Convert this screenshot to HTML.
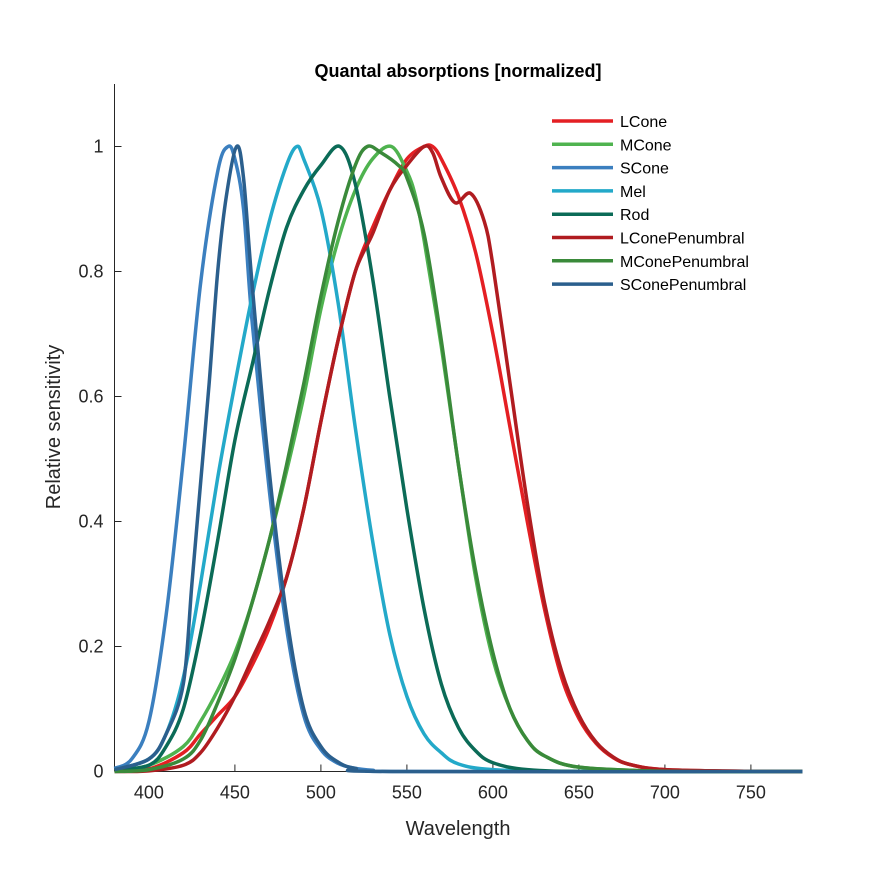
<!DOCTYPE html>
<html><head><meta charset="utf-8"><style>
body{margin:0;background:#fff;}
svg text{font-family:"Liberation Sans",Arial,sans-serif;}
</style></head><body>
<svg id="chart" width="886" height="886" viewBox="0 0 886 886">
<rect width="886" height="886" fill="#fff"/>
<text x="458" y="77" text-anchor="middle" font-size="18" font-weight="bold" fill="#000">Quantal absorptions [normalized]</text>
<g id="axes"></g>
<g id="series"></g>
<g id="legend"></g>
<text x="458" y="835" text-anchor="middle" font-size="20" fill="#262626">Wavelength</text>
<text transform="translate(60,427) rotate(-90)" text-anchor="middle" font-size="20" fill="#262626">Relative sensitivity</text>
</svg>
<script>
const xTicks=[400,450,500,550,600,650,700,750];
const yTicks=[0,0.2,0.4,0.6,0.8,1];
const yTickLabels=["0","0.2","0.4","0.6","0.8","1"];
const seriesNames=["LCone","MCone","SCone","Mel","Rod","LConePenumbral","MConePenumbral","SConePenumbral"];
const seriesColors=["#e41f23","#4fb34f","#3b7fbf","#23a9c9","#0b6b57","#b01c20","#3a8a3a","#2b5f8d"];
const LCone=[[380,0.001],[400,0.004],[420,0.03],[430,0.06],[440,0.09],[450,0.12],[460,0.17],[470,0.23],[480,0.31],[490,0.42],[500,0.56],[510,0.69],[520,0.8],[530,0.87],[540,0.93],[550,0.98],[560,1.0],[565,1.0],[570,0.98],[580,0.92],[590,0.83],[600,0.7],[610,0.55],[620,0.4],[630,0.26],[640,0.15],[650,0.085],[660,0.045],[670,0.022],[680,0.011],[700,0.003],[750,0.0003],[780,0]];
const MCone=[[380,0.001],[400,0.01],[420,0.04],[430,0.08],[440,0.13],[450,0.19],[460,0.27],[470,0.37],[480,0.48],[490,0.6],[500,0.74],[510,0.85],[520,0.93],[530,0.98],[541,1],[550,0.96],[555,0.92],[560,0.85],[570,0.68],[580,0.49],[590,0.31],[600,0.18],[610,0.1],[620,0.05],[630,0.025],[650,0.007],[700,0.0005],[780,0]];
const SCone=[[380,0.005],[390,0.02],[400,0.08],[410,0.25],[420,0.5],[430,0.78],[440,0.96],[446,1.0],[450,0.98],[455,0.9],[460,0.72],[470,0.45],[480,0.23],[490,0.09],[500,0.035],[510,0.013],[520,0.005],[530,0.002],[550,0],[780,0]];
const Mel=[[380,0.003],[400,0.02],[410,0.06],[420,0.15],[430,0.3],[440,0.47],[450,0.62],[460,0.76],[470,0.88],[480,0.97],[486,1],[490,0.98],[500,0.9],[510,0.75],[520,0.55],[530,0.37],[540,0.22],[550,0.12],[560,0.06],[570,0.03],[580,0.012],[600,0.003],[650,0],[780,0]];
const Rod=[[380,0.002],[400,0.01],[410,0.04],[420,0.1],[430,0.22],[440,0.37],[450,0.53],[460,0.65],[470,0.77],[480,0.87],[490,0.93],[500,0.97],[511,1],[520,0.94],[530,0.79],[540,0.6],[550,0.42],[560,0.26],[570,0.14],[580,0.07],[590,0.033],[600,0.014],[620,0.003],[660,0],[780,0]];
const LConePen=[[380,0],[400,0.001],[420,0.01],[430,0.03],[440,0.07],[450,0.12],[460,0.18],[470,0.24],[480,0.31],[490,0.42],[500,0.56],[510,0.69],[520,0.8],[530,0.86],[540,0.93],[550,0.97],[560,1.0],[565,0.99],[570,0.95],[578,0.91],[587,0.925],[595,0.88],[600,0.81],[610,0.62],[620,0.43],[630,0.27],[640,0.16],[650,0.09],[660,0.047],[670,0.023],[680,0.011],[700,0.003],[750,0.0003],[780,0]];
const MConePen=[[380,0],[400,0.003],[420,0.02],[430,0.05],[440,0.11],[450,0.18],[460,0.27],[470,0.37],[480,0.49],[490,0.62],[500,0.76],[510,0.88],[520,0.97],[527,1],[535,0.99],[545,0.97],[550,0.95],[560,0.86],[570,0.69],[580,0.49],[590,0.32],[600,0.19],[610,0.1],[620,0.05],[630,0.025],[650,0.007],[700,0.0005],[780,0]];
const SConePen=[[380,0.003],[400,0.02],[410,0.06],[420,0.14],[425,0.3],[430,0.46],[435,0.62],[440,0.8],[445,0.92],[451,1.0],[455,0.95],[460,0.78],[470,0.48],[480,0.25],[490,0.1],[500,0.04],[510,0.015],[520,0.005],[540,0],[780,0]];
const seriesData=[LCone,MCone,SCone,Mel,Rod,LConePen,MConePen,SConePen];

const X0=380,X1=780,PX0=114.5,PX1=802.5;
const Y0=0,Y1=1.1,PY0=771.5,PY1=84;
const xs=v=>PX0+(v-X0)/(X1-X0)*(PX1-PX0);
const ys=v=>PY0-(v-Y0)/(Y1-Y0)*(PY0-PY1);
const NS="http://www.w3.org/2000/svg";
function mk(tag,attrs,parent){const e=document.createElementNS(NS,tag);for(const k in attrs)e.setAttribute(k,attrs[k]);parent.appendChild(e);return e;}
const axes=document.getElementById('axes');
let e=mk('line',{x1:PX0,y1:PY1,x2:PX0,y2:PY0,stroke:"#262626","stroke-width":1},axes);


e=mk('line',{x1:PX0,y1:PY0,x2:PX1,y2:PY0,stroke:"#262626","stroke-width":1},axes);


xTicks.forEach(t=>{
 const l=mk('line',{x1:xs(t),x2:xs(t),y1:PY0,y2:PY0-7,stroke:"#262626"},axes);
 
 
 const tx=mk('text',{x:xs(t),y:PY0+27,"text-anchor":"middle","font-size":"18",fill:"#262626"},axes);
 tx.textContent=t;
 
 
});
yTicks.forEach((t,i)=>{
 const l=mk('line',{x1:PX0,x2:PX0+7,y1:ys(t),y2:ys(t),stroke:"#262626"},axes);
 
 
 const tx=mk('text',{x:PX0-11,y:ys(t)+6,"text-anchor":"end","font-size":"18",fill:"#262626"},axes);
 tx.textContent=yTickLabels[i];
 
 
});
function pathFor(d){
 const p=d.map(q=>[xs(q[0]),ys(q[1])]);
 let s="M"+p[0][0]+","+p[0][1];
 for(let i=0;i<p.length-1;i++){
  const a=p[Math.max(i-1,0)],b=p[i],c=p[i+1],n=p[Math.min(i+2,p.length-1)];
  const c1=[b[0]+(c[0]-a[0])/6,b[1]+(c[1]-a[1])/6],c2=[c[0]-(n[0]-b[0])/6,c[1]-(n[1]-b[1])/6];
  s+=" C"+c1[0]+","+c1[1]+" "+c2[0]+","+c2[1]+" "+c[0]+","+c[1];
 }
 return s;
}
const sg=document.getElementById('series');
seriesData.forEach((d,i)=>{
 const p=mk('path',{d:pathFor(d),fill:"none",stroke:seriesColors[i],"stroke-width":3.5,"stroke-linejoin":"round"},sg);
 
 
});
const lg=document.getElementById('legend');
seriesNames.forEach((n,i)=>{
 const y=121+i*23.3;
 const l=mk('line',{x1:552,x2:613,y1:y,y2:y,stroke:seriesColors[i],"stroke-width":3.5},lg);
 
 
 const t=mk('text',{x:620,y:y+6,"font-size":"16",fill:"#000"},lg);
 t.textContent=n;
 
 
});
</script>
</body></html>
